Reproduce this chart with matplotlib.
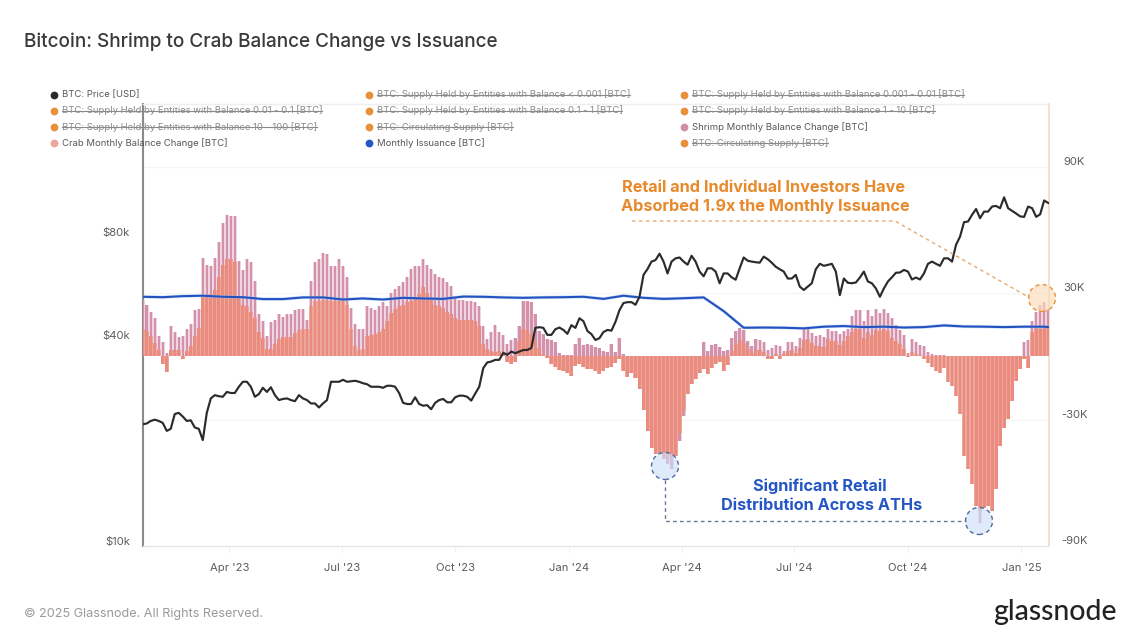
import matplotlib
matplotlib.use("Agg")
import matplotlib.pyplot as plt
import matplotlib.dates as mdates
import pandas as pd
from matplotlib.lines import Line2D
from matplotlib.patches import Circle
from matplotlib.transforms import ScaledTranslation, Affine2D

plt.rcParams['font.family'] = ['Inter', 'DejaVu Sans']

# ---- data (thousand BTC / thousand USD) ----
shrimp_k = [
 27.0,24.2,21.3,18.0,9.5,6.6,1.4,14.2,11.4,9.0,9.5,12.8,15.2,21.8,22.3,46.9,43.6,42.7,46.5,54.5,63.5,67.3,66.8,66.8,45.5,41.2,46.0,44.6,35.6,19.9,16.6,9.5,16.1,17.5,19.9,18.5,19.9,19.9,21.8,22.3,22.3,17.1,36.0,44.6,46.0,49.3,48.8,42.7,43.1,
 46.0,
 42.7,37.9,22.8,15.6,12.8,12.8,23.7,22.8,21.8,23.7,25.6,23.7,30.3,31.8,33.2,35.1,37.9,41.7,42.7,43.1,46.0,43.6,41.7,39.3,37.9,37.0,35.1,33.2,28.4,27.0,27.0,26.5,26.5,25.6,23.7,14.2,8.1,11.4,14.7,11.4,10.0,5.7,7.6,8.5,14.2,26.5,26.1,25.6,19.9,11.9,
 10.4,8.1,7.6,6.6,1.4,0.5,0.5,0.5,5.7,8.5,5.2,5.7,5.2,4.3,3.8,2.4,1.9,5.7,1.9,8.5,0.9,
 -3.8,-3.8,-5.7,-9.5,-16.6,-26.1,-35.6,-43.6,-46.5,-47.4,-51.2,-53.6,-43.6,-40.3,-28.4,-18.0,-11.9,-7.1,-5.7,
 6.6,2.4,5.2,5.7,4.3,2.4,2.8,
 8.5,11.9,13.7,12.3,7.1,4.7,8.1,7.6,6.6,2.8,3.8,5.2,4.7,2.4,6.6,6.6,4.7,8.5,13.3,13.3,10.9,9.5,10.0,9.0,12.8,11.9,11.9,10.4,11.9,12.8,19.0,21.8,21.8,16.6,21.8,19.0,22.3,20.4,22.3,20.4,18.0,14.7,12.3,10.0,1.4,8.1,6.6,5.2,
 4.7,1.9,0.9,0.5,0.5,0.5,-2.4,-4.7,-7.1,-11.9,-23.7,-35.6,-47.4,-64.0,-79.2,-68.7,-61.6,-52.1,-42.7,-30.8,-23.7,-16.6,-9.5,-4.7,-1.4,6.6,7.6,16.6,20.9,24.6,25.6,22.3,
]
crab_k = [
 12.8,11.9,9.5,6.2,2.8,-3.8,-7.6,2.8,2.8,2.8,-1.4,2.4,4.7,9.5,13.3,28.0,28.0,29.4,31.3,37.9,43.6,46.0,46.0,45.0,28.4,24.6,23.7,21.3,18.0,11.4,8.5,3.3,3.3,5.7,8.1,9.0,9.0,9.0,10.9,12.3,12.8,12.8,23.7,26.5,26.5,27.0,27.0,26.5,26.5,
 26.5,
 26.1,24.6,12.8,4.7,2.8,3.3,9.5,10.0,10.4,11.4,12.8,16.6,20.4,22.3,23.7,24.6,25.6,26.5,27.5,29.4,32.7,29.9,27.0,24.6,23.7,22.8,21.3,19.9,18.0,17.5,17.5,17.5,17.1,16.6,14.2,5.7,3.3,2.4,1.9,2.4,1.4,-2.8,-3.8,-2.8,7.1,12.8,12.3,10.4,7.6,3.8,
 0.9,-0.9,-3.8,-5.2,-6.6,-7.1,-8.1,-9.5,-4.7,-3.8,-5.2,-6.2,-6.2,-7.1,-8.5,-7.1,-5.7,-5.2,-3.3,-1.4,-7.1,
 -10.0,-8.1,-10.4,-15.6,-25.6,-35.6,-43.6,-46.5,-45.5,-48.8,-47.4,-47.4,-47.4,-36.5,-26.1,-18.0,-13.3,-10.9,-8.1,
 -6.2,-8.5,-5.7,-3.8,-2.8,-7.1,-4.3,
 2.4,5.7,7.6,6.2,3.3,1.4,2.8,2.8,1.9,-1.4,-1.4,0.9,-1.4,0.9,2.4,2.8,1.4,3.8,7.6,8.1,6.2,4.7,4.7,4.3,8.1,7.1,7.1,5.2,7.1,9.5,11.4,12.8,12.8,8.5,11.4,10.0,12.3,11.9,12.8,11.9,8.5,7.1,5.7,3.3,-0.5,1.9,0.9,0.5,
 -1.4,-3.3,-5.2,-7.1,-8.1,-5.7,-12.3,-14.2,-19.0,-27.5,-47.4,-53.6,-60.7,-71.1,-73.5,-72.0,-71.1,-73.5,-63.0,-42.7,-34.1,-29.9,-21.3,-11.9,-6.2,-1.4,-5.7,11.4,13.3,12.8,14.2,14.2,
]
price_k = [
 22.7,22.8,23.2,23.4,23.2,22.9,21.7,22.0,24.3,24.5,23.9,23.2,23.3,22.2,22.0,20.4,24.5,27.0,27.6,27.4,
 27.3,28.2,28.0,28.0,29.2,30.2,30.2,29.2,27.3,27.8,29.0,28.2,29.1,27.6,26.7,26.9,27.0,26.7,26.5,27.6,
 27.0,26.7,26.1,26.1,25.4,26.1,26.7,30.2,30.2,30.2,30.6,30.2,30.3,30.4,30.2,29.9,29.7,29.2,29.2,29.2,
 29.0,29.4,29.4,29.2,28.0,26.2,26.0,26.0,27.2,26.0,25.7,25.8,25.1,26.2,26.7,26.9,26.3,26.3,27.2,27.5,
 27.5,27.3,26.6,27.9,29.2,33.1,34.4,34.6,35.0,35.0,36.7,36.2,37.0,36.6,37.0,37.4,37.4,37.9,43.4,43.6,
 43.4,41.4,41.4,43.0,43.5,42.8,41.7,44.2,43.4,46.3,45.4,42.5,41.6,40.0,40.5,42.2,42.8,42.6,45.2,48.9,
 51.3,51.6,51.6,50.7,53.5,62.0,64.5,67.8,68.5,71.5,67.8,62.6,67.8,69.3,69.7,67.8,66.4,70.5,67.8,63.4,
 61.4,64.8,64.8,63.4,58.6,62.6,62.6,61.0,60.0,64.8,69.7,68.2,67.8,67.5,67.3,70.1,68.9,67.3,65.5,64.4,
 63.4,60.5,60.5,62.0,57.3,56.0,57.3,58.6,64.4,66.8,65.9,66.3,66.8,63.4,54.1,60.5,58.8,58.6,58.9,60.9,
 63.4,59.3,58.6,56.6,53.5,56.6,59.3,61.0,62.9,63.0,64.1,63.4,60.1,60.9,60.1,62.6,66.8,67.8,66.8,65.9,
 69.3,69.3,67.8,75.9,80.2,88.4,88.8,92.9,96.6,90.8,94.9,94.9,98.2,98.6,97.1,104.5,97.1,95.4,93.7,91.9,
 91.6,98.2,97.1,91.6,93.2,102.3,100.6,
]
issuance_k = [
 28.3,28.1,28.6,28.8,28.3,28.1,27.2,27.2,28.0,28.0,27.0,27.5,27.0,27.8,27.5,27.3,28.4,28.3,28.0,27.8,
 28.0,28.1,28.3,27.3,28.8,27.8,27.3,27.6,28.0,21.5,13.6,13.7,13.6,13.3,14.1,14.4,13.9,14.1,13.7,13.9,
 14.7,14.2,14.1,13.9,14.1,14.1,13.9,
]
issuance_idx = list(range(0, 226, 5)) + [226]

legend_rows = [
 [("BTC: Price [USD]", "#2b2b2b", False), ("BTC: Supply Held by Entities with Balance < 0.001 [BTC]", "#e8913a", True), ("BTC: Supply Held by Entities with Balance 0.001 - 0.01 [BTC]", "#e8913a", True)],
 [("BTC: Supply Held by Entities with Balance 0.01 - 0.1 [BTC]", "#e8913a", True), ("BTC: Supply Held by Entities with Balance 0.1 - 1 [BTC]", "#e8913a", True), ("BTC: Supply Held by Entities with Balance 1 - 10 [BTC]", "#e8913a", True)],
 [("BTC: Supply Held by Entities with Balance 10 - 100 [BTC]", "#e8913a", True), ("BTC: Circulating Supply [BTC]", "#e8913a", True), ("Shrimp Monthly Balance Change [BTC]", "#d48cab", False)],
 [("Crab Monthly Balance Change [BTC]", "#eda49c", False), ("Monthly Issuance [BTC]", "#2457c5", False), ("BTC: Circulating Supply [BTC]", "#e8913a", True)],
]
x_ticks = ["2023-04-01","2023-07-01","2023-10-01","2024-01-01","2024-04-01","2024-07-01","2024-10-01","2025-01-01"]
x_labels = ["Apr '23","Jul '23","Oct '23","Jan '24","Apr '24","Jul '24","Oct '24","Jan '25"]
right_ticks = [90, 30, -30, -90]
right_labels = ["90K", "30K", "-30K", "-90K"]
left_ticks = [10, 40, 80]
left_labels = ["$10k", "$40k", "$80k"]

W, H = 1140, 641
fig = plt.figure(figsize=(W/100, H/100), dpi=100, facecolor="white")
L, R, T, B = 143, 1049, 104, 546
ax = fig.add_axes([L/W, 1-B/H, (R-L)/W, (B-T)/H])
axp = ax.twinx()
dates = pd.date_range("2023-01-21", "2025-01-22 14:00", periods=len(shrimp_k))
dn = mdates.date2num(dates)
step = dn[1]-dn[0]

def px(x, y):
    return (x/W, 1-y/H)

# right axis: bars + issuance
ax.set_xlim(mdates.date2num(pd.Timestamp("2023-01-21 06:00")), mdates.date2num(pd.Timestamp("2025-01-23 06:00")))
ax.set_ylim(-90, 119.8)
ax.bar(dn, shrimp_k, width=step*1.0, color="#eed6e0", linewidth=0, zorder=2)
ax.bar(dn, shrimp_k, width=step*0.6, color="#d590ac", linewidth=0, zorder=3)
ax.bar(dn, crab_k, width=step*1.0, color="#efa69b", linewidth=0, zorder=4)
ax.bar(dn, crab_k, width=step*0.72, color="#e98b7f", linewidth=0, zorder=5)
ax.plot(dn[issuance_idx], issuance_k, color="#9cc0f0", lw=2.4, alpha=0.5, zorder=6)
ax.plot(dn[issuance_idx], issuance_k, color="#2352c0", lw=1.5, zorder=7)
ax.set_yticks(right_ticks)
ax.set_yticklabels(right_labels)
ax.yaxis.tick_right()
ax.set_xticks(mdates.date2num(pd.to_datetime(x_ticks)))
ax.set_xticklabels(x_labels)
ax.tick_params(axis="x", length=4, color="#f0f0f0", labelcolor="#5c5c5c", labelsize=8.1, pad=8)
ax.tick_params(axis="y", length=0, labelcolor="#5c5c5c", labelsize=8.1, pad=6)
for tick in ax.yaxis.get_major_ticks():
    lab = tick.label2
    lab.set_ha("center")
    lab.set_transform(lab.get_transform() + ScaledTranslation(17/100, 6/100, fig.dpi_scale_trans))
ax.grid(axis="y", color="#f6f6f6", lw=1, zorder=0)
ax.set_axisbelow(True)
for s, c, w in (("top", "#eeeeee", 1), ("bottom", "#e6e6e6", 1), ("left", "#8a8a8a", 1.5), ("right", "#efdcc8", 1.2)):
    ax.spines[s].set_color(c); ax.spines[s].set_linewidth(w)

# left axis: price, log scale
axp.set_yscale("log", base=2)
axp.set_ylim(10, 10*2**((B-T)/103))
axp.plot(dn, price_k, color="#2b2b2b", lw=1.55, zorder=5, solid_joinstyle="round")
axp.yaxis.tick_left()
axp.set_yticks(left_ticks)
axp.set_yticklabels(left_labels)
axp.minorticks_off()
axp.tick_params(axis="y", length=0, labelcolor="#5c5c5c", labelsize=8.1, pad=9.3)
for tick in axp.yaxis.get_major_ticks():
    lab = tick.label1
    lab.set_transform(lab.get_transform() + ScaledTranslation(0, 5/100, fig.dpi_scale_trans))
for s in axp.spines.values():
    s.set_visible(False)
axp.patch.set_visible(False)

# title and footer
fig.text(*px(24, 42), "Bitcoin: Shrimp to Crab Balance Change vs Issuance", fontsize=13.65, fontweight="medium", color="#3a3a3a", va="center", ha="left")
fig.text(*px(24, 614), "© 2025 Glassnode. All Rights Reserved.", fontsize=9.1, color="#9a9a9a", va="center", ha="left")
fig.text(*px(1117, 612), "glassnode", fontsize=20.5, color="#222222", va="center", ha="right", family=["Lato", "DejaVu Sans"], fontweight="medium")

# legend
rend = fig.canvas.get_renderer()
col_dot = [54, 369, 684]
row_y = [94.5, 110.5, 127, 143]
for row, yy in zip(legend_rows, row_y):
    for (label, colour, struck), xx in zip(row, col_dot):
        fig.add_artist(Line2D([xx/W], [1-yy/H], marker="o", ms=5.6, mew=0, color=colour, transform=fig.transFigure, zorder=10))
        t = fig.text(*px(xx+7.5, yy), label, fontsize=6.82, color="#8a8a8a" if struck else "#565656", va="center", ha="left", zorder=10)
        if struck:
            bb = t.get_window_extent(rend)
            fig.add_artist(Line2D([bb.x0/W, bb.x1/W], [1-(yy+0.3)/H]*2, color="#8a8a8a", lw=0.8, transform=fig.transFigure, zorder=11))

# annotations
orange = "#e8892b"; blue = "#2457c5"
fontsize_note = 11.7
fig.text(*px(763, 187), "Retail and Individual Investors Have", fontsize=fontsize_note, fontweight="bold", color=orange, ha="center", va="center", zorder=12)
fig.text(*px(765, 206), "Absorbed 1.9x the Monthly Issuance", fontsize=fontsize_note, fontweight="bold", color=orange, ha="center", va="center", zorder=12)
fig.text(*px(820, 486), "Significant Retail", fontsize=fontsize_note, fontweight="bold", color=blue, ha="center", va="center", zorder=12)
fig.text(*px(822, 506), "Distribution Across ATHs", fontsize=fontsize_note, fontweight="bold", color=blue, ha="center", va="center", zorder=12)

def dash(xs, ys, c):
    fig.add_artist(Line2D([x/W for x in xs], [1-y/H for y in ys], color=c, lw=1.0, ls=(0, (2.6, 2.4)), transform=fig.transFigure, zorder=11))
dash([632, 895, 1030], [221, 221, 298], "#e3ad72")
dash([665, 665, 966], [480, 521, 521], "#66779a")
for cx, cy, fc, ec in ((1042, 298, "#fbdcb8", "#e8913a"), (665, 466, "#cfe0f8", "#4e6a9e"), (979, 521, "#cfe0f8", "#4e6a9e")):
    fig.add_artist(Circle((cx, H-cy), 13.5, transform=Affine2D(), facecolor=fc, edgecolor="none", alpha=0.65, zorder=9))
    fig.add_artist(Circle((cx, H-cy), 13.5, transform=Affine2D(), facecolor="none", edgecolor=ec, lw=1.0, ls=(0, (3, 2.4)), zorder=9))

fig.savefig("out.png", dpi=100, facecolor="white")
